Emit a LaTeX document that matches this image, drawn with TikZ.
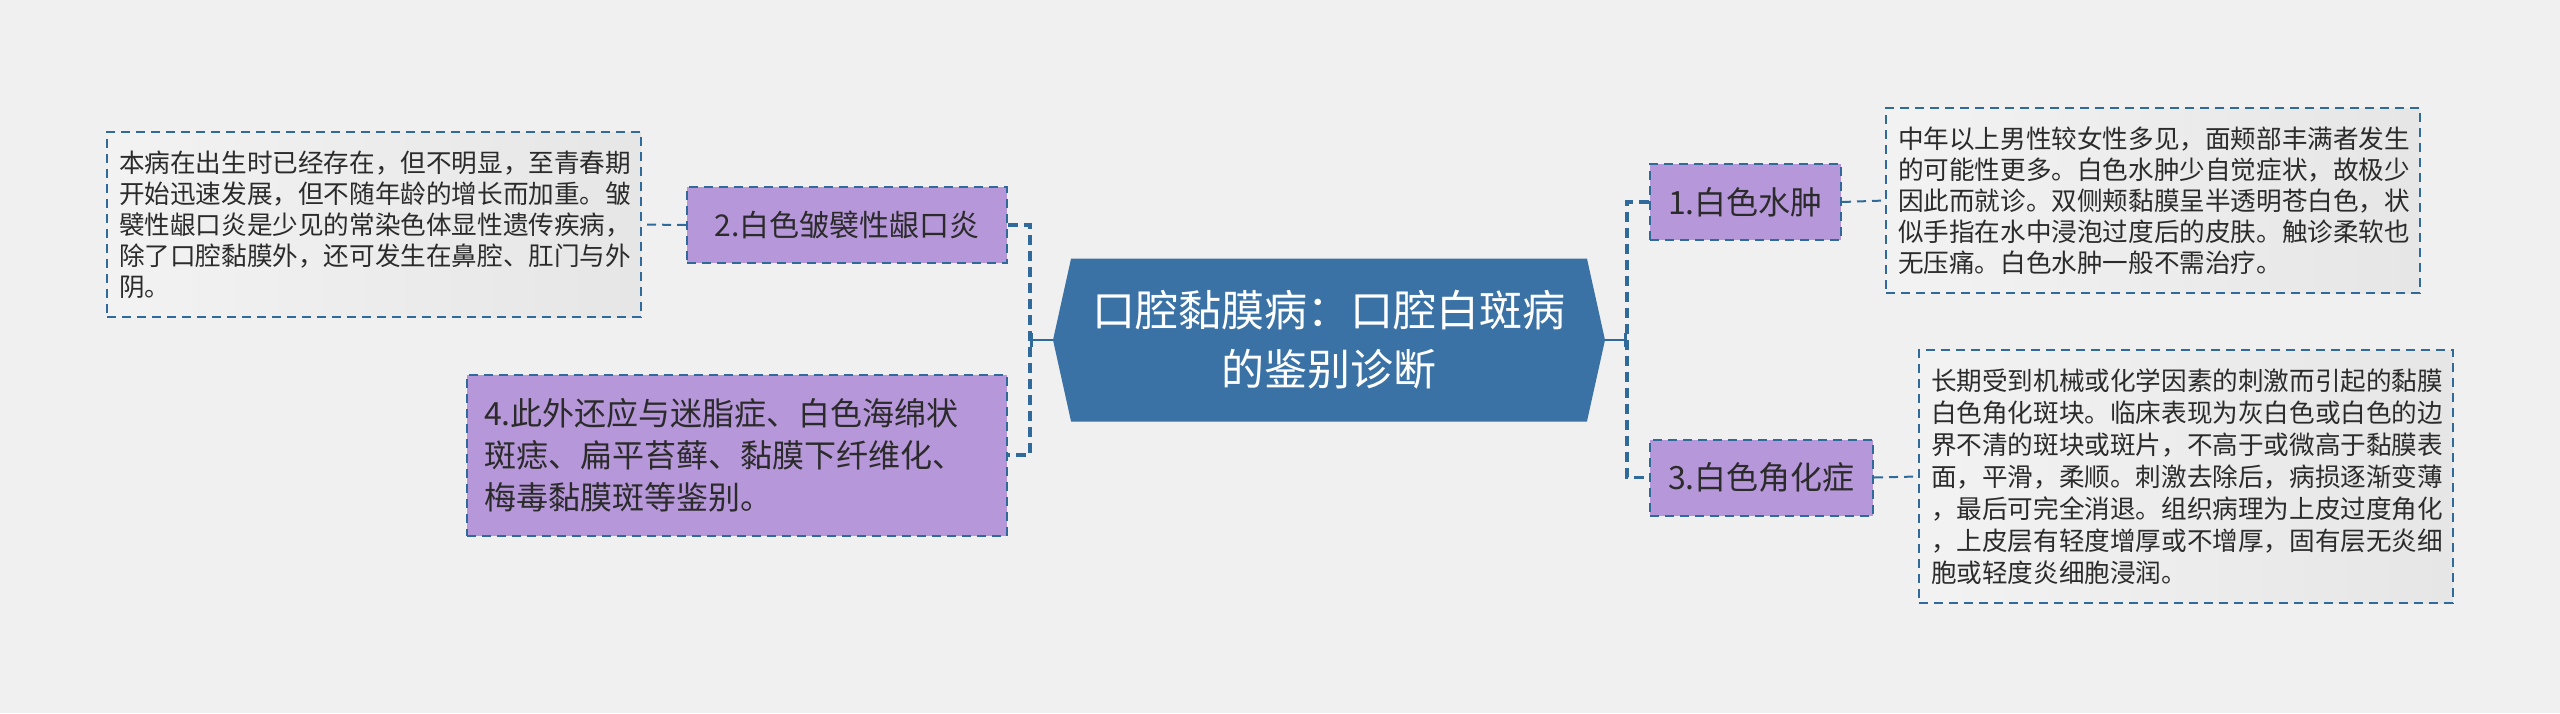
\documentclass[tikz,border=0pt]{standalone}
\usepackage{fontspec}
\setmainfont{Noto Sans CJK SC}
\usepackage{tikz}
\usetikzlibrary{shapes.symbols, arrows.meta}
\definecolor{bgGray}{HTML}{F0F0F0}
\definecolor{mBlue}{HTML}{3B72A5}
\definecolor{lineBlue}{HTML}{2F6A9A}
\definecolor{mPurple}{HTML}{B697D9}
\definecolor{noteGray}{HTML}{E6E6E6}
\definecolor{inkDark}{HTML}{2B2B2B}

\begin{document}
\begin{tikzpicture}[x=0.5pt, y=-0.5pt,
  hexa/.style={signal, signal to=west and east, signal pointer angle=155, fill=mBlue, text=white, inner sep=0pt, minimum width=276pt, minimum height=81.5pt, align=center, font=\fontsize{21.5}{29.5}\selectfont},
  topic/.style={fill=mPurple, draw=lineBlue, line width=1pt, dash pattern=on 4.5pt off 3pt, inner sep=0pt, minimum height=38pt, text=inkDark, align=left, font=\fontsize{16}{21}\selectfont},
  note/.style={left color=noteGray!50, right color=noteGray, draw=lineBlue, line width=1pt, dash pattern=on 4.5pt off 3pt, inner xsep=6pt, inner ysep=0pt, text width=255pt, text=inkDark, align=left, font=\fontsize{12.8}{15.5}\selectfont},
  trunk/.style={draw=lineBlue, line width=1.6pt, dash pattern=on 5pt off 3pt},
  twig/.style={draw=lineBlue, line width=1pt, dash pattern=on 4.5pt off 3pt}
]
  \fill[bgGray] (0,0) rectangle (2560,713);
  \useasboundingbox (0,0) rectangle (2560,713);

  \node[hexa] (main) at (1329,340) {口腔黏膜病：口腔白斑病\\的鉴别诊断};

  \node[topic, minimum width=160pt, font=\fontsize{15}{18}\selectfont] (n2) at (847,225) {2.白色皱襞性龈口炎};
  \node[topic, minimum width=270pt, minimum height=80.5pt, inner xsep=8.5pt, text width=253pt] (n4) at (737,455)
    {4.此外还应与迷脂症、白色海绵状\\斑痣、扁平苔藓、黏膜下纤维化、\\梅毒黏膜斑等鉴别。};
  \node[topic, minimum width=95.5pt] (n1) at (1745.5,202) {1.白色水肿};
  \node[topic, minimum width=111.5pt] (n3) at (1761.5,477.5) {3.白色角化症};

  \node[note, minimum height=92.5pt] (d2) at (374,224.5)
    {本病在出生时已经存在，但不明显，至青春期\\开始迅速发展，但不随年龄的增长而加重。皱\\襞性龈口炎是少见的常染色体显性遗传疾病，\\除了口腔黏膜外，还可发生在鼻腔、肛门与外\\阴。};
  \node[note, minimum height=92.5pt] (d1) at (2153,200.5)
    {中年以上男性较女性多见，面颊部丰满者发生\\的可能性更多。白色水肿少自觉症状，故极少\\因此而就诊。双侧颊黏膜呈半透明苍白色，状\\似手指在水中浸泡过度后的皮肤。触诊柔软也\\无压痛。白色水肿一般不需治疗。};
  \node[note, minimum height=126.5pt, font=\fontsize{12.8}{16}\selectfont] (d3) at (2186,476.5)
    {长期受到机械或化学因素的刺激而引起的黏膜\\白色角化斑块。临床表现为灰白色或白色的边\\界不清的斑块或斑片，不高于或微高于黏膜表\\面，平滑，柔顺。刺激去除后，病损逐渐变薄\\，最后可完全消退。组织病理为上皮过度角化\\，上皮层有轻度增厚或不增厚，固有层无炎细\\胞或轻度炎细胞浸润。};

  \coordinate (lt) at (1030,340);
  \coordinate (rt) at (1627,340);

  \draw[trunk] (n2.east) -| (lt) |- (n4.east);
  \draw[trunk] (n1.west) -| (rt) |- (n3.west);
  \draw[lineBlue, line width=1.3pt, -{Bar[width=7pt, line width=1.6pt]}] (main.west) -- (lt);
  \draw[lineBlue, line width=1.3pt, -{Bar[width=7pt, line width=1.6pt]}] (main.east) -- (rt);

  \draw[twig] (n2.west) -- (d2.east);
  \draw[twig] (n1.east) -- (d1.west);
  \draw[twig] (n3.east) -- (d3.west);
\end{tikzpicture}
\end{document}
